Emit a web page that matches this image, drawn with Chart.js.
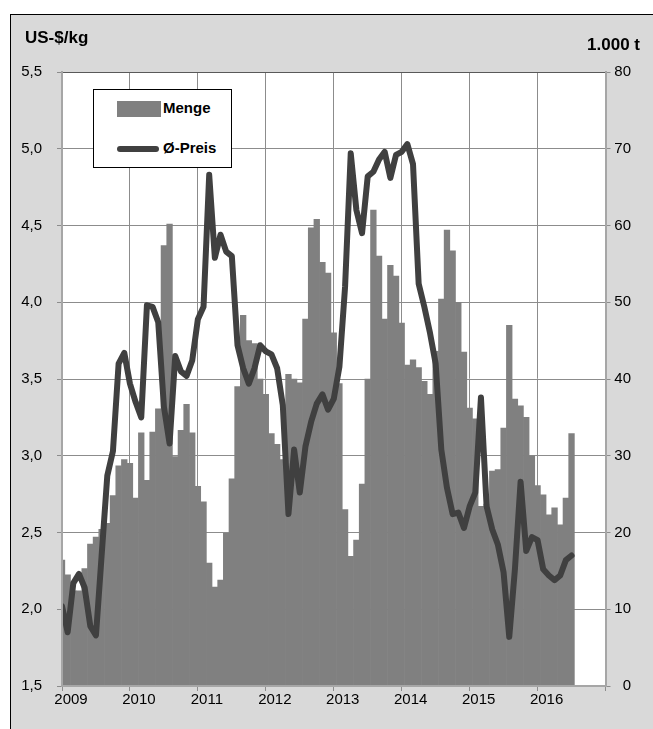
<!DOCTYPE html>
<html>
<head>
<meta charset="utf-8">
<script src="https://cdn.jsdelivr.net/npm/chart.js@4/dist/chart.umd.min.js"></script>
<style>
  html, body { margin: 0; padding: 0; background: #fff; }
  #rahmen {
    position: absolute; left: 10px; top: 14px; width: 643px; height: 715px;
    background: #d9d9d9; border-left: 1px solid #000; border-top: 1px solid #000;
    box-sizing: border-box;
  }
  #box { position: absolute; left: 0; top: 0; width: 653px; height: 729px; }
  .titel { position: absolute; font: bold 17px "Liberation Sans", Arial, sans-serif; color: #000; white-space: nowrap; }
  #legende {
    position: absolute; left: 93px; top: 89px; width: 139px; height: 79px;
    background: #fff; border: 1px solid #000; box-sizing: border-box;
    font: bold 15px "Liberation Sans", Arial, sans-serif;
  }
  #legende .balken { position: absolute; left: 23px; width: 44px; height: 16px; background: #808080; }
  #legende .linie { position: absolute; left: 23px; width: 42px; height: 6px; border-radius: 3px; background: #404040; }
  #legende .text { position: absolute; left: 69px; white-space: nowrap; }
</style>
</head>
<body>
<div id="rahmen"></div>
<div id="box"><canvas id="mengeChart"></canvas></div>
<div class="titel" style="left:25px; top:28px;">US-$/kg</div>
<div class="titel" style="right:13px; top:35px;">1.000 t</div>
<div id="legende">
  <div class="balken" style="top:11px;"></div>
  <div class="text" style="top:9px;">Menge</div>
  <div class="linie" style="top:56px;"></div>
  <div class="text" style="top:49px;">Ø-Preis</div>
</div>
<script>
// Monatswerte Jan 2009 - Jul 2016
const jahre = ['2009', '2010', '2011', '2012', '2013', '2014', '2015', '2016'];

// Menge in 1.000 t
const menge = [
  16.4, 14.5, 12.4, 12.4, 15.3, 18.5, 19.4, 20.4, 21.2, 24.8, 28.7, 29.5,
  29.0, 24.5, 33.0, 26.8, 33.1, 36.1, 57.4, 60.2, 29.9, 33.3, 36.7, 33.0,
  26.0, 24.0, 16.0, 12.9, 13.8, 19.9, 27.0, 39.0, 48.3, 45.0, 44.6, 40.0,
  38.0, 32.9, 31.5, 29.5, 40.6, 40.0, 39.5, 47.8, 59.7, 60.8, 55.2, 53.8,
  46.0, 39.4, 23.0, 16.9, 19.0, 26.3, 40.0, 62.0, 56.0, 47.8, 54.8, 53.4,
  47.3, 41.8, 42.5, 41.5, 39.7, 38.0, 43.6, 50.4, 59.4, 56.7, 50.0, 43.5,
  36.2, 34.8, 23.4, 23.7, 28.0, 28.2, 33.6, 47.0, 37.4, 36.5, 35.0, 30.0,
  26.1, 24.9, 22.3, 23.2, 21.0, 24.5, 32.9
];

// Durchschnittspreis in US-$/kg
const preis = [
  2.02, 1.85, 2.17, 2.23, 2.14, 1.89, 1.83, 2.35, 2.87, 3.03, 3.60, 3.67,
  3.47, 3.35, 3.25, 3.98, 3.97, 3.87, 3.32, 3.08, 3.65, 3.55, 3.52, 3.62,
  3.89, 3.97, 4.83, 4.29, 4.44, 4.33, 4.30, 3.72, 3.57, 3.47, 3.57, 3.72,
  3.68, 3.66, 3.57, 3.33, 2.62, 3.04, 2.76, 3.06, 3.22, 3.34, 3.40, 3.30,
  3.37, 3.58, 4.10, 4.97, 4.60, 4.45, 4.82, 4.85, 4.93, 4.98, 4.81, 4.96,
  4.98, 5.03, 4.90, 4.12, 3.97, 3.80, 3.60, 3.04, 2.79, 2.62, 2.63, 2.53,
  2.67, 2.76, 3.38, 2.67, 2.52, 2.42, 2.24, 1.82, 2.26, 2.83, 2.38, 2.47,
  2.45, 2.26, 2.22, 2.19, 2.22, 2.32, 2.35
];

const schrift = { family: '"Liberation Sans", Arial, sans-serif', size: 15 };

// weisse Zeichenflaeche + Rand oben
const flaeche = {
  id: 'flaeche',
  beforeDraw(chart) {
    const { ctx, chartArea: a } = chart;
    ctx.save();
    ctx.fillStyle = '#fff';
    ctx.fillRect(a.left, a.top, a.right - a.left, a.bottom - a.top);
    ctx.restore();
  },
  afterDatasetsDraw(chart) {
    const { ctx, chartArea: a } = chart;
    ctx.save();
    ctx.strokeStyle = '#595959';
    ctx.lineWidth = 1;
    ctx.beginPath();
    ctx.moveTo(a.left, a.top + 0.5);
    ctx.lineTo(a.right, a.top + 0.5);
    ctx.stroke();
    ctx.restore();
  }
};

document.addEventListener('DOMContentLoaded', () => {
  inicializar();
});

function inicializar() {
  const ctx = document.getElementById('mengeChart').getContext('2d');
  new Chart(ctx, {
    type: 'bar',
    data: {
      datasets: [
        {
          type: 'line',
          label: 'Ø-Preis',
          data: preis.map((p, i) => ({ x: i, y: p })),
          yAxisID: 'y',
          borderColor: '#404040',
          borderWidth: 6,
          borderJoinStyle: 'round',
          borderCapStyle: 'round',
          pointRadius: 0,
          tension: 0,
          clip: 0,
          order: 0
        },
        {
          label: 'Menge',
          data: menge.map((m, i) => ({ x: i, y: m })),
          yAxisID: 'y1',
          backgroundColor: '#808080',
          borderWidth: 0,
          barPercentage: 1,
          categoryPercentage: 1,
          clip: 0,
          order: 1
        }
      ]
    },
    options: {
      responsive: true,
      maintainAspectRatio: false,
      animation: false,
      devicePixelRatio: 1,
      layout: { padding: { top: 72, right: 22, left: 0, bottom: 0 } },
      plugins: {
        legend: { display: false },
        tooltip: { enabled: false }
      },
      scales: {
        x: {
          type: 'linear',
          min: 0,
          max: 96,
          offset: false,
          afterFit: (s) => { s.height = 43; },
          grid: {
            offset: false,
            color: '#8c8c8c',
            borderDash: [1, 2],
            tickLength: 5,
            tickColor: '#8c8c8c',
            tickBorderDash: []
          },
          border: { color: '#a6a6a6', width: 2, z: 1 },
          ticks: {
            stepSize: 12,
            autoSkip: false,
            maxRotation: 0,
            padding: 0,
            labelOffset: 9,
            color: '#000',
            font: schrift,
            callback: (v) => jahre[v / 12] || ''
          }
        },
        y: {
          position: 'left',
          min: 1.5,
          max: 5.5,
          afterFit: (s) => { s.width = 62; },
          grid: {
            color: '#8c8c8c',
            borderDash: [1, 2],
            tickLength: 5,
            tickColor: '#8c8c8c',
            tickBorderDash: []
          },
          border: { color: '#a6a6a6', width: 2, z: 1 },
          ticks: {
            stepSize: 0.5,
            padding: 15,
            color: '#000',
            font: schrift,
            callback: (v) => v.toFixed(1).replace('.', ',')
          }
        },
        y1: {
          position: 'right',
          min: 0,
          max: 80,
          afterFit: (s) => { s.width = 25.5; },
          grid: {
            drawOnChartArea: false,
            tickLength: 5,
            color: '#8c8c8c'
          },
          border: { color: '#a6a6a6', width: 2, z: 1 },
          ticks: {
            stepSize: 10,
            crossAlign: 'far',
            color: '#000',
            font: schrift
          }
        }
      }
    },
    plugins: [flaeche]
  });
}
</script>
</body>
</html>
